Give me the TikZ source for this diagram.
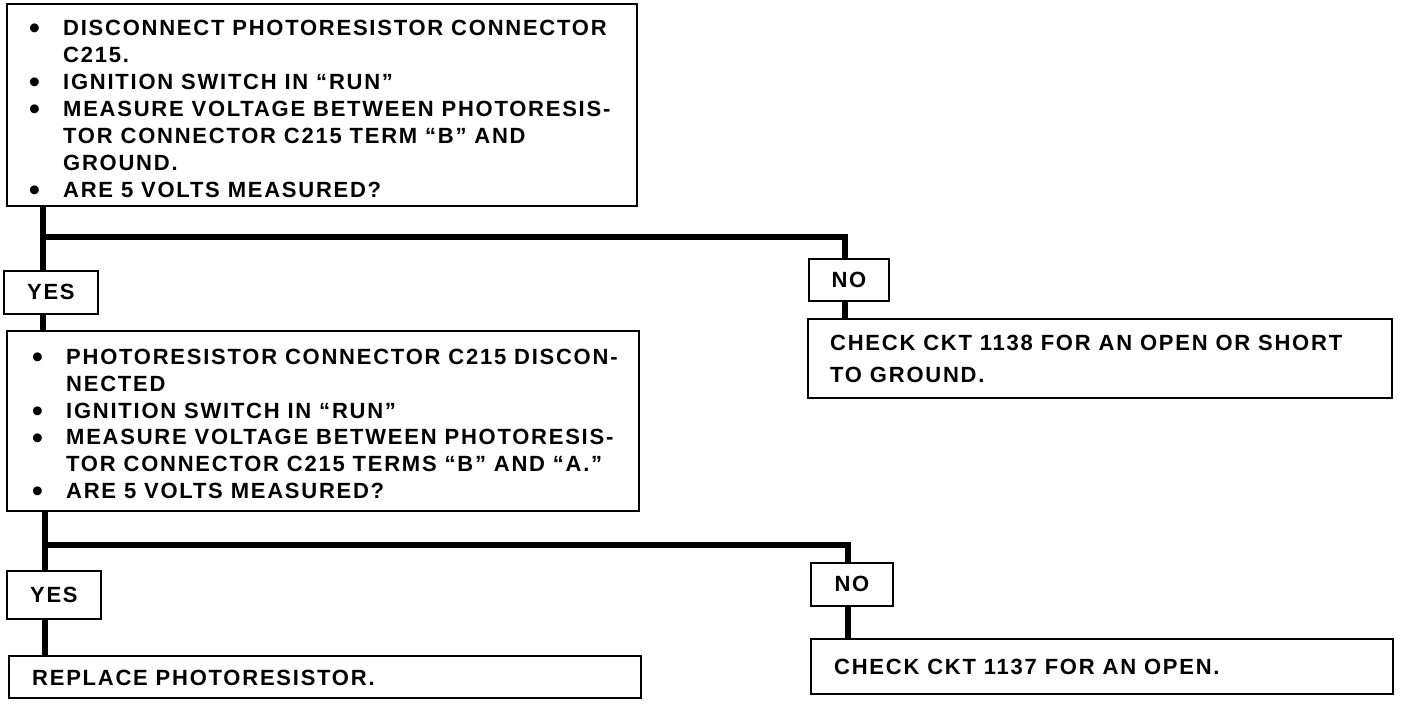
\documentclass[tikz,border=0pt]{standalone}
\usepackage{fontspec}
\usepackage{graphicx}
\setmainfont{Liberation Sans}[LetterSpace=8]
\newcommand{\bul}{\makebox[33pt][l]{\hspace*{-1pt}\raisebox{-3.2pt}{\scalebox{1.4}{\textbullet}}}}
\newcommand{\ind}{\hspace*{33pt}}
\begin{document}
\begin{tikzpicture}[x=1pt,y=-1pt]
\tikzset{
  box/.style={draw, line width=1.8pt, anchor=north west, inner sep=0pt},
  lbl/.style={box, font=\fontsize{22}{27}\selectfont\bfseries},
  conn/.style={line width=5.5pt, line join=miter},
  txt/.style={anchor=north west, inner sep=0pt, align=left, font=\fontsize{22}{27}\selectfont\bfseries},
}
\useasboundingbox (0,0) rectangle (1408,708);

% boxes
\node[box, minimum width=630pt, minimum height=202pt] (b1) at (6,3) {};
\node[lbl, minimum width=94pt, minimum height=43pt] (yes1) at (3,270) {YES};
\node[lbl, minimum width=80pt, minimum height=42pt] (no1) at (808,258) {NO};
\node[box, minimum width=584pt, minimum height=79pt] (c1) at (807,318) {};
\node[box, minimum width=632pt, minimum height=180pt] (b2) at (6,330) {};
\node[lbl, minimum width=94pt, minimum height=48pt] (yes2) at (6,570) {YES};
\node[lbl, minimum width=82pt, minimum height=43pt] (no2) at (810,562) {NO};
\node[box, minimum width=632pt, minimum height=42pt] (b4) at (8,655) {};
\node[box, minimum width=582pt, minimum height=55pt] (c2) at (810,638) {};

% texts
\node[txt] (t1) at ([xshift=24pt,yshift=-17pt]b1.north west) {%
\bul DISCONNECT PHOTORESISTOR CONNECTOR\\
\ind C215.\\
\bul IGNITION SWITCH IN “RUN”\\
\bul MEASURE VOLTAGE BETWEEN PHOTORESIS-\\
\ind TOR CONNECTOR C215 TERM “B” AND\\
\ind GROUND.\\
\bul ARE 5 VOLTS MEASURED?};
\node[txt, font=\fontsize{22}{26.8}\selectfont\bfseries] (t2) at ([xshift=27pt,yshift=-19pt]b2.north west) {%
\bul PHOTORESISTOR CONNECTOR C215 DISCON-\\
\ind NECTED\\
\bul IGNITION SWITCH IN “RUN”\\
\bul MEASURE VOLTAGE BETWEEN PHOTORESIS-\\
\ind TOR CONNECTOR C215 TERMS “B” AND “A.”\\
\bul ARE 5 VOLTS MEASURED?};
\node[txt, font=\fontsize{22}{32}\selectfont\bfseries] (t3) at ([xshift=23pt,yshift=-17pt]c1.north west) {%
CHECK CKT 1138 FOR AN OPEN OR SHORT\\
TO GROUND.};
\node[txt] (t4) at ([xshift=24pt,yshift=-15pt]b4.north west) {REPLACE PHOTORESISTOR.};
\node[txt] (t5) at ([xshift=24pt,yshift=-21pt]c2.north west) {CHECK CKT 1137 FOR AN OPEN.};

% connectors
\coordinate (j1) at (43,237);
\coordinate (j1r) at (845,237);
\coordinate (j2) at (45,545);
\coordinate (j2r) at (848,545);
\draw[conn] (b1.south -| j1) -- (yes1.north -| j1);
\draw[conn] (j1) -- (j1r) -- (no1.north -| j1r);
\draw[conn] (yes1.south -| j1) -- (b2.north -| j1);
\draw[conn] (no1.south -| j1r) -- (c1.north -| j1r);
\draw[conn] (b2.south -| j2) -- (yes2.north -| j2);
\draw[conn] (j2) -- (j2r) -- (no2.north -| j2r);
\draw[conn] (yes2.south -| j2) -- (b4.north -| j2);
\draw[conn] (no2.south -| j2r) -- (c2.north -| j2r);
\end{tikzpicture}
\end{document}
